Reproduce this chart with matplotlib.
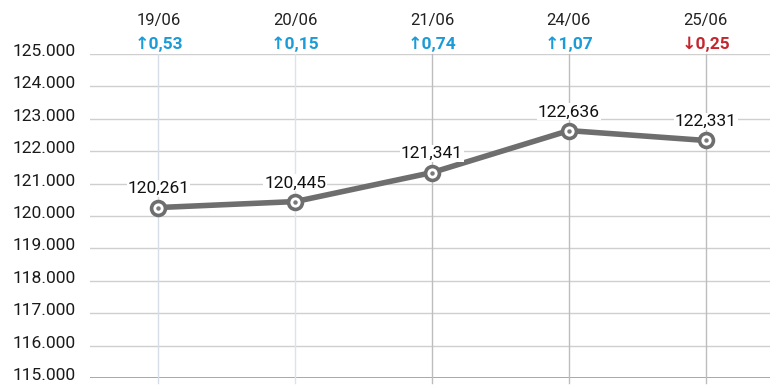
import matplotlib
matplotlib.use("Agg")
import matplotlib.pyplot as plt
import matplotlib.transforms as mtransforms
import numpy as np

dates = ["19/06", "20/06", "21/06", "24/06", "25/06"]
values = [120.261, 120.445, 121.341, 122.636, 122.331]
value_labels = ["120,261", "120,445", "121,341", "122,636", "122,331"]
changes = ["0,53", "0,15", "0,74", "1,07", "0,25"]
directions = ["up", "up", "up", "up", "down"]
yticks = [115, 116, 117, 118, 119, 120, 121, 122, 123, 124, 125]
ytick_labels = ["115.000", "116.000", "117.000", "118.000", "119.000", "120.000",
                "121.000", "122.000", "123.000", "124.000", "125.000"]

W, H = 780, 389
fig = plt.figure(figsize=(W / 100, H / 100), dpi=100)
ax = fig.add_axes([90 / W, 1 - 378 / H, (770 - 90) / W, (378 - 54) / H])
x = np.arange(len(dates))
ax.set_xlim(-0.5, 4.47)
ax.set_ylim(115, 125)

for s in ax.spines.values():
    s.set_visible(False)

# horizontal grid
for i, yv in enumerate(yticks):
    ax.axhline(yv, color="#9a9a9a" if yv == 115 else "#cfcfcf",
               lw=1.2 if yv == 115 else 1.0, zorder=1)
# vertical grid
vcols = ["#d6dde6", "#dde3ea", "#bdbdbd", "#bdbdbd", "#bdbdbd"]
for i, xv in enumerate(x):
    ax.plot([xv, xv], [115 - 0.15, 125], color=vcols[i], lw=1.0, zorder=1,
            clip_on=False)

ax.set_xticks([])
ax.set_yticks(yticks)
ax.set_yticklabels(ytick_labels, fontsize=12.5, family=["Roboto", "DejaVu Sans"],
                   color="#1a1a1a")
ax.tick_params(axis="y", length=0, pad=10)
off = mtransforms.ScaledTranslation(0, 4 / 100, fig.dpi_scale_trans)
for lab in ax.get_yticklabels():
    lab.set_transform(lab.get_transform() + off)

# line
ax.plot(x, values, color="#6e6e6e", lw=4.0, zorder=3, solid_capstyle="round")
ax.plot(x, values, "o", ms=10, mfc="white", mec="#6e6e6e", mew=2.6, zorder=4)
ax.plot(x, values, "o", ms=2.2, color="#7a7a7a", zorder=5)

for xi, yv, lab in zip(x, values, value_labels):
    ax.annotate(lab, (xi, yv), xytext=(0, 13.5), textcoords="offset points",
                ha="center", va="center", fontsize=12.5,
                family=["Roboto", "DejaVu Sans"], color="#111111",
                bbox=dict(boxstyle="square,pad=0.05", fc="white", ec="none"),
                zorder=6)

# header
tr = mtransforms.blended_transform_factory(ax.transData, fig.transFigure)
for xi, d, c, dr in zip(x, dates, changes, directions):
    ax.text(xi, 1 - 20 / H, d, transform=tr, ha="center", va="center",
            fontsize=12, family=["Roboto", "DejaVu Sans"], color="#222222")
    col = "#1b9bd7" if dr == "up" else "#c4262e"
    arrow = "↑" if dr == "up" else "↓"
    ax.text(xi, 1 - 44 / H, arrow + c, transform=tr, ha="center", va="center",
            fontsize=12.5, fontweight="bold", family=["Roboto", "DejaVu Sans"],
            color=col)

fig.savefig("out.png", dpi=100)
